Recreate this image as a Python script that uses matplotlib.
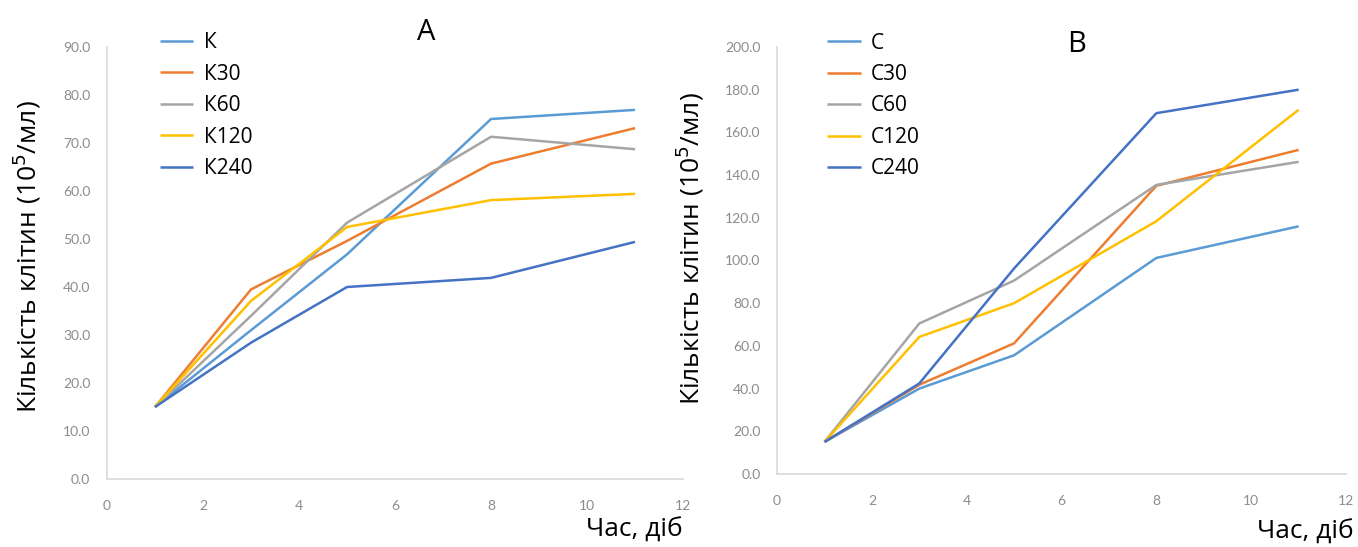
import matplotlib.pyplot as plt
from matplotlib.ticker import FormatStrFormatter

# days of measurement
days = [1, 3, 5, 8, 11]

# panel A: cell counts, 10^5 / ml
k_labels = ['К', 'К30', 'К60', 'К120', 'К240']
k = [15.0, 31.0, 46.8, 75.0, 76.9]
k30 = [15.0, 39.5, 49.6, 65.7, 73.1]
k60 = [15.0, 34.0, 53.4, 71.3, 68.7]
k120 = [15.0, 37.1, 52.5, 58.1, 59.4]
k240 = [15.0, 28.4, 40.0, 41.9, 49.4]

# panel B
c_labels = ['С', 'С30', 'С60', 'С120', 'С240']
c = [15.0, 40.0, 55.6, 101.2, 116.0]
c30 = [15.0, 41.8, 61.2, 135.0, 151.8]
c60 = [15.0, 70.5, 90.6, 135.4, 146.2]
c120 = [15.0, 64.2, 80.0, 118.4, 170.6]
c240 = [15.0, 42.4, 96.3, 169.0, 180.0]

colors = ['#5B9BD5', '#ED7D31', '#A5A5A5', '#FFC000', '#4472C4']

fig = plt.figure(figsize=(13.58, 5.47), dpi=100)
axA = fig.add_axes([0.0788, 0.1243, 0.4242, 0.7898])
axB = fig.add_axes([0.5722, 0.1335, 0.4190, 0.7806])

lab_font = 'Open Sans'
tick_font = 'Lato'


def style(ax, ymax, ystep):
    ax.set_xlim(0, 12)
    ax.set_ylim(0, ymax)
    ax.set_xticks(range(0, 13, 2))
    ax.set_yticks([i * ystep for i in range(int(ymax / ystep) + 1)])
    ax.yaxis.set_major_formatter(FormatStrFormatter('%.1f'))
    for s in ['top', 'right']:
        ax.spines[s].set_visible(False)
    for s in ['left', 'bottom']:
        ax.spines[s].set_color('#D9D9D9')
        ax.spines[s].set_linewidth(1.2)
    ax.tick_params(length=0, colors='#8C8C8C', labelsize=10)
    ax.tick_params(axis='x', pad=15)
    ax.tick_params(axis='y', pad=12)
    for t in ax.get_xticklabels() + ax.get_yticklabels():
        t.set_fontfamily(tick_font)


def draw(ax, series, labels, x0):
    for ys, lab, col in zip(series, labels, colors):
        ax.plot(days, ys, color=col, lw=1.8, label=lab, solid_capstyle='butt')
    ax.legend(loc='upper left', bbox_to_anchor=(x0, 1.058), frameon=False,
              prop={'family': lab_font, 'size': 15}, handlelength=1.6,
              handletextpad=0.5, labelspacing=0.5, borderpad=0)


draw(axA, [k, k30, k60, k120, k240], k_labels, 0.074)
style(axA, 90, 10)
draw(axB, [c, c30, c60, c120, c240], c_labels, 0.07)
style(axB, 200, 20)

ylab = 'Кількість клітин (10$^5$/мл)'
fig.text(0.020, 0.53, ylab, rotation=90, ha='center', va='center',
         fontsize=19, family=lab_font)
fig.text(0.508, 0.545, ylab, rotation=90, ha='center', va='center',
         fontsize=19, family=lab_font)

fig.text(0.503, 0.030, 'Час, діб', ha='right', va='center', fontsize=19, family=lab_font)
fig.text(0.997, 0.027, 'Час, діб', ha='right', va='center', fontsize=19, family=lab_font)

fig.text(0.314, 0.94, 'A', ha='center', va='center', fontsize=21, family=lab_font)
fig.text(0.793, 0.918, 'B', ha='center', va='center', fontsize=21, family=lab_font)

fig.savefig('out.png', dpi=100)
